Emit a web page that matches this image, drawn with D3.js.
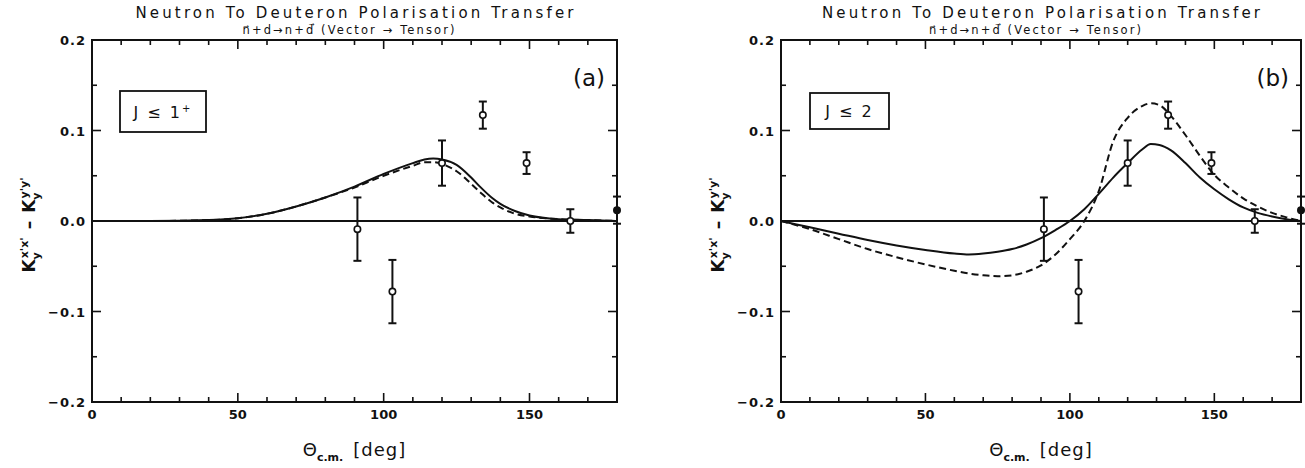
<!DOCTYPE html>
<html>
<head>
<meta charset="utf-8">
<script src="https://cdn.jsdelivr.net/npm/d3@7"></script>
<style>
  body { margin: 0; background: #fff; }
  text { font-family: "DejaVu Sans", sans-serif; fill: #111; }
</style>
</head>
<body>
<div id="chart"></div>
<script>
// measured data (same set in both panels)
var theta = [91, 103, 120, 134, 149, 164, 180]
var kdiff = [-0.009, -0.078, 0.064, 0.117, 0.064, 0.0, 0.012]
var kerr = [0.035, 0.035, 0.025, 0.015, 0.012, 0.013, 0.015]
var filled = [false, false, false, false, false, false, true]

// panel (a) J <= 1+ curves
var curveTheta_a = [0, 20, 40, 50, 60, 70, 80, 90, 100, 110, 114, 117, 120, 125, 130, 133, 137, 140, 145, 150, 160, 170, 180]
var solid_a = [0, 0, 0.001, 0.003, 0.008, 0.016, 0.026, 0.038, 0.052, 0.064, 0.068, 0.069, 0.068, 0.062, 0.048, 0.038, 0.026, 0.019, 0.011, 0.006, 0.002, 0.001, 0]
var dashed_a = [0, 0, 0.001, 0.003, 0.008, 0.016, 0.026, 0.037, 0.050, 0.061, 0.065, 0.065, 0.063, 0.055, 0.041, 0.032, 0.021, 0.015, 0.008, 0.005, 0.002, 0.001, 0]

// panel (b) J <= 2 curves
var curveTheta_b = [0, 10, 20, 30, 40, 50, 60, 65, 70, 75, 80, 85, 90, 95, 100, 105, 110, 115, 120, 125, 128, 131, 135, 140, 145, 150, 155, 160, 165, 170, 175, 180]
var solid_b = [0, -0.007, -0.014, -0.021, -0.027, -0.032, -0.036, -0.037, -0.036, -0.034, -0.031, -0.026, -0.019, -0.010, 0.0, 0.013, 0.030, 0.048, 0.064, 0.079, 0.085, 0.084, 0.078, 0.064, 0.048, 0.035, 0.024, 0.015, 0.009, 0.005, 0.002, 0]
var dashed_b = [0, -0.009, -0.020, -0.031, -0.040, -0.048, -0.055, -0.058, -0.060, -0.061, -0.060, -0.056, -0.049, -0.037, -0.020, 0.0, 0.033, 0.088, 0.114, 0.127, 0.130, 0.128, 0.116, 0.095, 0.072, 0.051, 0.037, 0.025, 0.016, 0.009, 0.004, 0]

var xTicks = [0, 50, 100, 150]
var yTicks = [-0.2, -0.1, 0.0, 0.1, 0.2]

var panels = [
  {left: 92, right: 617, label: "(a)", legend: "J \u2264 1", sup: "+", box: [120, 91, 86, 41],
   ct: curveTheta_a, solid: solid_a, dashed: dashed_a},
  {left: 781, right: 1301, label: "(b)", legend: "J \u2264 2", sup: "", box: [810, 93, 79, 36],
   ct: curveTheta_b, solid: solid_b, dashed: dashed_b}
]

var svg = d3.select("#chart").append("svg")
  .attr("width", 1305)
  .attr("height", 468)

var yTop = 40, yBottom = 402

panels.forEach(function(p){
  var x = d3.scaleLinear().domain([0, 180]).range([p.left, p.right])
  var y = d3.scaleLinear().domain([-0.2, 0.2]).range([yBottom, yTop])
  var g = svg.append("g")
  var mid = (p.left + p.right) / 2

  // titles
  g.append("text").attr("x", mid).attr("y", 18)
    .attr("text-anchor", "middle").style("font-size", "15px")
    .attr("textLength", 438).attr("lengthAdjust", "spacing")
    .text("Neutron To Deuteron Polarisation Transfer")
  g.append("text").attr("x", mid - 6).attr("y", 34)
    .attr("text-anchor", "middle").style("font-size", "11.5px")
    .attr("textLength", 212).attr("lengthAdjust", "spacing")
    .text("n\u20D7+d\u2192n+d\u20D7 (Vector \u2192 Tensor)")

  // frame
  g.append("rect").attr("x", p.left).attr("y", yTop)
    .attr("width", p.right - p.left).attr("height", yBottom - yTop)
    .attr("fill", "none").attr("stroke", "#111").attr("stroke-width", 2)

  // zero line
  g.append("line").attr("x1", p.left).attr("x2", p.right)
    .attr("y1", y(0)).attr("y2", y(0))
    .attr("stroke", "#111").attr("stroke-width", 2)

  // x ticks (inward, top and bottom)
  d3.range(10, 180, 10).forEach(function(t){
    var len = (t % 50 == 0) ? 9 : 5
    g.append("line").attr("x1", x(t)).attr("x2", x(t))
      .attr("y1", yBottom).attr("y2", yBottom - len)
      .attr("stroke", "#111").attr("stroke-width", 1.6)
    g.append("line").attr("x1", x(t)).attr("x2", x(t))
      .attr("y1", yTop).attr("y2", yTop + len)
      .attr("stroke", "#111").attr("stroke-width", 1.6)
  })
  // y ticks (inward, left and right)
  d3.range(-3, 4).forEach(function(k){
    var v = k * 0.05
    var len = (k % 2 == 0) ? 9 : 5
    g.append("line").attr("x1", p.left).attr("x2", p.left + len)
      .attr("y1", y(v)).attr("y2", y(v))
      .attr("stroke", "#111").attr("stroke-width", 1.6)
    g.append("line").attr("x1", p.right).attr("x2", p.right - len)
      .attr("y1", y(v)).attr("y2", y(v))
      .attr("stroke", "#111").attr("stroke-width", 1.6)
  })

  // tick labels
  xTicks.forEach(function(t){
    g.append("text").attr("x", x(t)).attr("y", 419)
      .attr("text-anchor", "middle").style("font-size", "13px").style("font-weight", "bold")
      .text(t)
  })
  yTicks.forEach(function(v){
    g.append("text").attr("x", p.left - 6).attr("y", y(v) + 5)
      .attr("text-anchor", "end").style("font-size", "13px").style("font-weight", "bold")
      .attr("letter-spacing", "1px")
      .text(d3.format(".1f")(v))
  })

  // x axis title
  var xt = g.append("text").attr("x", mid).attr("y", 456)
    .attr("text-anchor", "middle").style("font-size", "18px")
  xt.append("tspan").text("\u0398")
  xt.append("tspan").attr("dy", 5).style("font-size", "11px").style("font-weight", "bold").text("c.m.")
  xt.append("tspan").attr("dy", -5).attr("dx", 10).attr("letter-spacing", "1px").text("[deg]")

  // y axis title
  var yt = g.append("text")
    .attr("transform", "translate(" + (p.left - 57) + "," + (y(0) + 4) + ") rotate(-90)")
    .attr("text-anchor", "middle").style("font-size", "17px").style("font-weight", "bold")
  yt.append("tspan").text("K")
  yt.append("tspan").attr("dy", 5).style("font-size", "11px").text("y")
  yt.append("tspan").attr("dy", -12).attr("dx", -6).style("font-size", "11px").text("x'x'")
  yt.append("tspan").attr("dy", 7).attr("dx", 8).text("\u2013")
  yt.append("tspan").attr("dx", 8).text("K")
  yt.append("tspan").attr("dy", 5).style("font-size", "11px").text("y")
  yt.append("tspan").attr("dy", -12).attr("dx", -6).style("font-size", "11px").text("y'y'")

  // legend box
  g.append("rect").attr("x", p.box[0]).attr("y", p.box[1])
    .attr("width", p.box[2]).attr("height", p.box[3])
    .attr("fill", "none").attr("stroke", "#111").attr("stroke-width", 1.8)
  var lt = g.append("text").attr("x", p.box[0] + p.box[2] / 2).attr("y", p.box[1] + p.box[3] / 2 + 6)
    .attr("text-anchor", "middle").style("font-size", "16px")
    .attr("letter-spacing", "2px")
    .text(p.legend)
  if (p.sup) lt.append("tspan").attr("dy", -6).style("font-size", "10px").text(p.sup)

  // panel label
  g.append("text").attr("x", p.right - 12).attr("y", 86)
    .attr("text-anchor", "end").style("font-size", "23px")
    .text(p.label)

  // curves
  var line = d3.line()
    .x(function(d){ return x(d[0]) })
    .y(function(d){ return y(d[1]) })
    .curve(d3.curveMonotoneX)
  g.append("path").datum(d3.zip(p.ct, p.solid)).attr("d", line)
    .attr("fill", "none").attr("stroke", "#111").attr("stroke-width", 2)
  g.append("path").datum(d3.zip(p.ct, p.dashed)).attr("d", line)
    .attr("fill", "none").attr("stroke", "#111").attr("stroke-width", 2)
    .attr("stroke-dasharray", "7,4")

  // data points with error bars
  for (var i = 0; i < theta.length; i++) {
    var cx = x(theta[i])
    g.append("line").attr("x1", cx).attr("x2", cx)
      .attr("y1", y(kdiff[i] - kerr[i])).attr("y2", y(kdiff[i] + kerr[i]))
      .attr("stroke", "#111").attr("stroke-width", 2)
    ;[kdiff[i] - kerr[i], kdiff[i] + kerr[i]].forEach(function(v){
      g.append("line").attr("x1", cx - 4).attr("x2", cx + 4)
        .attr("y1", y(v)).attr("y2", y(v))
        .attr("stroke", "#111").attr("stroke-width", 2)
    })
    g.append("circle").attr("cx", cx).attr("cy", y(kdiff[i])).attr("r", 3.2)
      .attr("fill", filled[i] ? "#111" : "#fff")
      .attr("stroke", "#111").attr("stroke-width", 1.6)
  }
})
</script>
</body>
</html>
